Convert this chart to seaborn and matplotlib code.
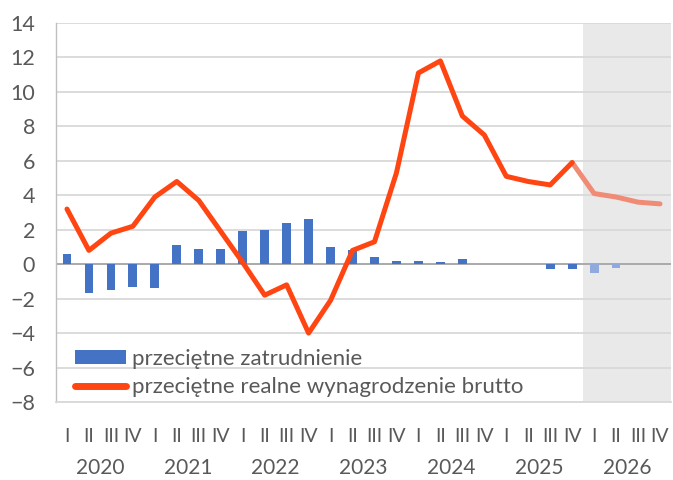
import numpy as np
import pandas as pd
import matplotlib
matplotlib.use('Agg')
import matplotlib.pyplot as plt
import seaborn as sns
from matplotlib.patches import Patch
from matplotlib.lines import Line2D

# quarters 2020 I - 2026 IV
years = ['2020', '2021', '2022', '2023', '2024', '2025', '2026']
quarters = ['I', 'II', 'III', 'IV']

# przeciętne zatrudnienie (r/r, %), nan = no bar shown
employment = [0.6, -1.7, -1.5, -1.3,
              -1.4, 1.1, 0.9, 0.9,
              1.9, 2.0, 2.4, 2.6,
              1.0, 0.8, 0.4, 0.2,
              0.2, 0.1, 0.3, np.nan,
              np.nan, np.nan, -0.3, -0.3,
              -0.5, -0.2, np.nan, np.nan]

# przeciętne realne wynagrodzenie brutto (r/r, %)
wages = [3.2, 0.8, 1.8, 2.2,
         3.9, 4.8, 3.7, 1.9,
         0.1, -1.8, -1.2, -4.0,
         -2.1, 0.8, 1.3, 5.3,
         11.1, 11.8, 8.6, 7.5,
         5.1, 4.8, 4.6, 5.9,
         4.1, 3.9, 3.6, 3.5]

n_actual = 24  # 2026 is forecast

df = pd.DataFrame({
    'idx': np.arange(len(employment)),
    'emp': employment,
    'wage': wages,
})
df['kind'] = np.where(df['idx'] < n_actual, 'actual', 'forecast')

text_col = '#595959'
blue = '#4472C4'
blue_light = '#8FAADC'
red = '#FF4512'
red_light = '#F08C76'

sns.set_style('white')
plt.rcParams['font.family'] = ['Lato', 'DejaVu Sans']

fig = plt.figure(figsize=(6.73, 4.8), dpi=100)
ax = fig.add_axes([56 / 673, (480 - 402) / 480, 615 / 673, 379 / 480])

# forecast shading
ax.axvspan(n_actual - 0.5, len(employment) - 0.5, color='#E9E9E9', zorder=0, lw=0)

sns.barplot(data=df, x='idx', y='emp', hue='kind',
            palette={'actual': blue, 'forecast': blue_light},
            dodge=False, width=0.4, legend=False, ax=ax, zorder=3,
            linewidth=0, saturation=1)

act = df[df['idx'] < n_actual]
fc = df[df['idx'] >= n_actual - 1]
sns.lineplot(x=fc['idx'], y=fc['wage'], color=red_light, lw=3.6, ax=ax,
             zorder=4, solid_joinstyle='round', solid_capstyle='round')
sns.lineplot(x=act['idx'], y=act['wage'], color=red, lw=3.6, ax=ax,
             zorder=5, solid_joinstyle='round', solid_capstyle='round')

ax.set_xlim(-0.5, len(employment) - 0.5)
ax.set_ylim(-8, 14)
ax.set_yticks(np.arange(-8, 15, 2))
ax.grid(axis='y', color='#D9D9D9', lw=1.3, zorder=1)
ax.set_axisbelow(True)
ax.axhline(0, color='#A6A6A6', lw=1.3, zorder=2)

ax.set_xlabel('')
ax.set_ylabel('')
for s in ['top', 'right']:
    ax.spines[s].set_visible(False)
ax.spines['left'].set_color('#BFBFBF')
ax.spines['bottom'].set_color('#D9D9D9')
ax.spines['left'].set_linewidth(1.0)
ax.spines['bottom'].set_linewidth(1.3)

ax.tick_params(axis='y', length=5, color='#BFBFBF', labelcolor=text_col,
               labelsize=15.5, pad=10)

# two-level category axis
ax.set_xticks(np.arange(len(employment)))
ax.set_xticklabels([])
ax.tick_params(axis='x', which='major', length=0)
ax.set_xticks(np.arange(-0.5, len(employment), 4), minor=True)
ax.tick_params(axis='x', which='minor', length=56, width=1.0, color='#BFBFBF')

trans = ax.get_xaxis_transform()
for i in range(len(employment)):
    ax.text(i, -35 / 379, quarters[i % 4], transform=trans, ha='center',
            va='center', fontsize=14, color=text_col)
for k, y in enumerate(years):
    ax.text(4 * k + 1.5, -66 / 379, y, transform=trans, ha='center',
            va='center', fontsize=15, color=text_col)

handles = [Patch(facecolor=blue, edgecolor='none'),
           Line2D([0], [0], color=red, lw=5, solid_capstyle='round')]
labels = ['przeciętne zatrudnienie', 'przeciętne realne wynagrodzenie brutto']
ax.legend(handles, labels, loc='lower left', bbox_to_anchor=(0.031, 0.012),
          frameon=False, fontsize=16, labelcolor=text_col, handlelength=2.3,
          handleheight=0.6, handletextpad=0.25, labelspacing=0.4,
          borderaxespad=0, borderpad=0)

fig.savefig('out.png', dpi=100)
